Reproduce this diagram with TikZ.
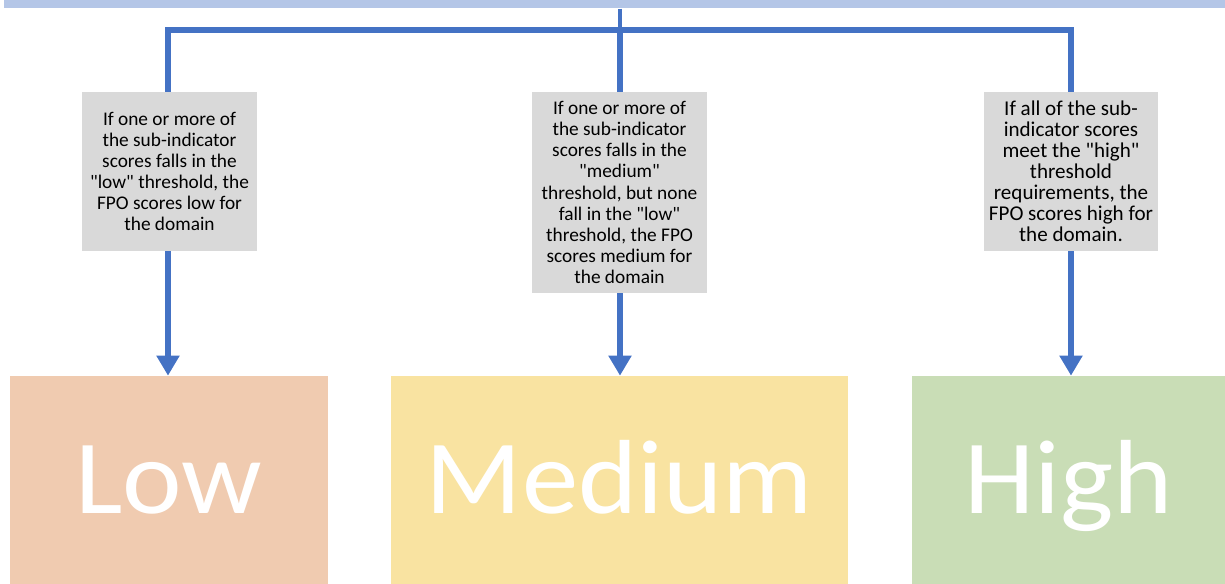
\documentclass[tikz,border=0pt]{standalone}
\usepackage{fontspec}
\setmainfont{Carlito}
\newfontfamily\levelfont{Carlito}[FakeStretch=1.07]
\usetikzlibrary{arrows.meta}

\definecolor{barblue}{HTML}{B4C6E7}
\definecolor{lineblue}{HTML}{4472C4}
\definecolor{notegray}{HTML}{D9D9D9}
\definecolor{lowfill}{HTML}{F0CBB0}
\definecolor{medfill}{HTML}{F9E3A1}
\definecolor{highfill}{HTML}{C9DDB6}

\newcommand{\q}{\textquotedbl}

\tikzset{
    levelbox/.style={rectangle, inner sep=0pt, text=white, minimum height=4.16cm,
        font=\levelfont\fontsize{60}{72}\selectfont, text height=38pt, text depth=0pt},
    notebox/.style={rectangle, fill=notegray, inner sep=0pt, align=center,
        minimum width=3.5cm, font=\fontsize{11}{12}\selectfont},
    bus/.style={lineblue, line width=3.2pt},
    busarrow/.style={bus, -{Triangle[width=0.44cm, length=0.4cm]}}
}

\begin{document}
\begin{tikzpicture}[x=0.02cm, y=-0.02cm]
        \useasboundingbox (0,0) rectangle (1225,584);

        % Barra in alto
        \node[rectangle, fill=barblue, inner sep=0pt, minimum width=24.42cm, minimum height=0.16cm,
            anchor=north west] (bar) at (4,0) {};

        % Livelli
        \node[levelbox, fill=lowfill, minimum width=6.36cm] (low) at (169,480) {Low};
        \node[levelbox, fill=medfill, minimum width=9.14cm] (medium) at (619.5,480) {Medium};
        \node[levelbox, fill=highfill, minimum width=6.26cm] (high) at (1068.5,480) {High};

        % Linee e frecce
        \coordinate (busL) at (168,30);
        \coordinate (busM) at (620,30);
        \coordinate (busR) at (1071,30);
        \draw[lineblue, line width=2.4pt] (bar.south -| busM) -- (busM);
        \draw[bus, line cap=rect] (busL) -- (busR);
        \draw[busarrow] (busL) -- (low.north -| busL);
        \draw[busarrow] (busM) -- (medium.north -| busM);
        \draw[busarrow] (busR) -- (high.north -| busR);

        % Condizioni
        \node[notebox, minimum height=3.18cm] (lownote) at (169.5,171.5)
            {If one or more of\\the sub-indicator\\scores falls in the\\\q low\q{} threshold, the\\FPO scores low for\\the domain};
        \node[notebox, minimum height=4.02cm] (mednote) at (619.5,192.5)
            {If one or more of\\the sub-indicator\\scores falls in the\\\q medium\q\\threshold, but none\\fall in the \q low\q\\threshold, the FPO\\scores medium for\\the domain};
        \node[notebox, minimum height=3.18cm, minimum width=3.48cm, font=\fontsize{12}{12}\selectfont] (highnote) at (1071,171.5)
            {If all of the sub-\\indicator scores\\meet the \q high\q\\threshold\\requirements, the\\FPO scores high for\\the domain.};

    \end{tikzpicture}
\end{document}
